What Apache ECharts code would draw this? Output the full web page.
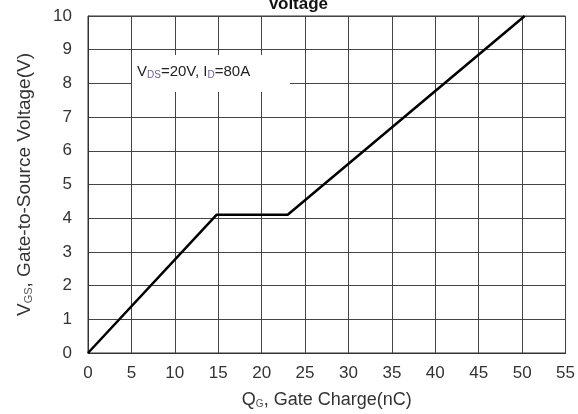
<!DOCTYPE html>
<html>
<head>
<meta charset="utf-8">
<script src="https://cdn.jsdelivr.net/npm/echarts@6/dist/echarts.min.js"></script>
<style>
  html, body { margin: 0; padding: 0; background: #fff; }
  #chart { width: 578px; height: 414px; }
</style>
</head>
<body>
<div id="chart"></div>
<script>
// 曲线数据: 栅极电荷 (nC) 与 栅源电压 (V)
var gateCharge = [0, 14.8, 23, 50.3];
var gateVoltage = [0, 4.1, 4.1, 10];

// 坐标轴刻度
var xTicks = [0, 5, 10, 15, 20, 25, 30, 35, 40, 45, 50, 55];
var yTicks = [0, 1, 2, 3, 4, 5, 6, 7, 8, 9, 10];

var chart = echarts.init(document.getElementById('chart'));

var fontFam = '"Liberation Sans", Arial, sans-serif';
var points = gateCharge.map(function (q, i) { return [q, gateVoltage[i]]; });

var option = {
  animation: false,
  textStyle: { fontFamily: fontFam },
  // 标题（被裁掉了一半）
  title: {
    text: 'Voltage',
    left: 293,
    top: -9,
    textAlign: 'center',
    textStyle: { fontSize: 17, fontWeight: 'bold', color: '#111', fontFamily: fontFam }
  },
  grid: {
    left: 88, right: 11, top: 16, bottom: 59,
    show: true, borderColor: '#333', borderWidth: 1, backgroundColor: '#fff'
  },
  xAxis: {
    type: 'value',
    min: xTicks[0], max: xTicks[xTicks.length - 1], interval: 5,
    name: 'Q{sub|G}, Gate Charge(nC)',
    nameLocation: 'middle',
    nameGap: 38,
    nameTextStyle: {
      fontSize: 18, color: '#333', fontFamily: fontFam,
      rich: { sub: { fontSize: 10, color: '#555', verticalAlign: 'bottom', padding: [8, 0, 0, 0] } }
    },
    axisLine: { show: true, lineStyle: { color: '#333' } },
    axisTick: { show: false },
    axisLabel: { fontSize: 17, color: '#333', margin: 12 },
    splitLine: { show: true, lineStyle: { color: '#444', width: 1 } }
  },
  yAxis: {
    type: 'value',
    min: yTicks[0], max: yTicks[yTicks.length - 1], interval: 1,
    name: 'V{sub|GS}, Gate-to-Source Voltage(V)',
    nameLocation: 'middle',
    nameGap: 54,
    nameTextStyle: {
      fontSize: 19, color: '#333', fontFamily: fontFam,
      rich: { sub: { fontSize: 11, color: '#555', verticalAlign: 'bottom', padding: [8, 0, 0, 0] } }
    },
    axisLine: { show: true, lineStyle: { color: '#333' } },
    axisTick: { show: false },
    axisLabel: { fontSize: 17, color: '#333', margin: 16 },
    splitLine: { show: true, lineStyle: { color: '#444', width: 1 } }
  },
  // 条件说明
  graphic: [
    {
      type: 'rect',
      shape: { x: 132, y: 55, width: 158, height: 37 },
      style: { fill: '#fff' },
      z: 5
    },
    {
      type: 'text',
      x: 137, y: 63,
      z: 6,
      style: {
        text: 'V{sub|DS}=20V, I{sub|D}=80A',
        font: '15px ' + fontFam,
        fill: '#222',
        rich: { sub: { fontSize: 10, fill: '#6a5f8f', verticalAlign: 'bottom', padding: [7, 0, 0, 0] } }
      }
    }
  ],
  series: [{
    type: 'line',
    data: points,
    showSymbol: false,
    lineStyle: { color: '#000', width: 2.5 },
    z: 10
  }]
};

chart.setOption(option);
</script>
</body>
</html>
